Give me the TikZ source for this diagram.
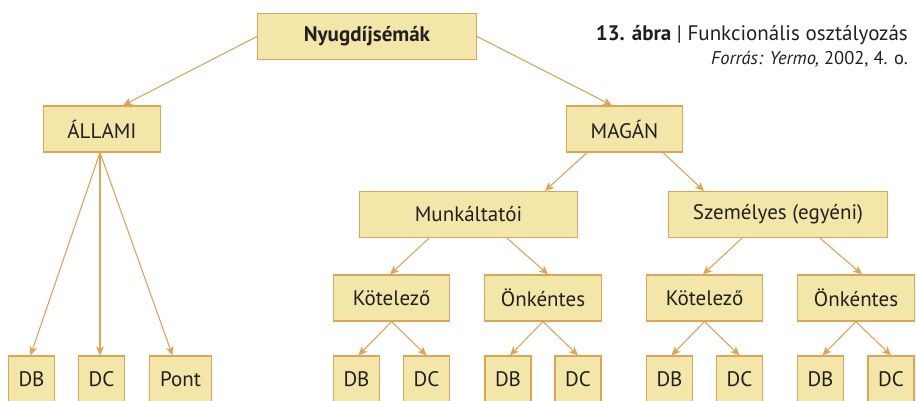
\documentclass[tikz,border=0pt]{standalone}
\usepackage{fontspec}
\setmainfont{PT Sans}
\usepackage{xcolor}
\usepackage{tikz}
\usetikzlibrary{arrows.meta,positioning}
\definecolor{pnfill}{HTML}{F3E6A9}
\definecolor{pnedge}{HTML}{E0A458}
\definecolor{pntext}{HTML}{231F20}

\begin{document}
\begin{tikzpicture}[
  x=1pt, y=-1pt,
  font=\fontsize{21}{24}\selectfont, text=pntext,
  box/.style={draw=pnedge, line width=1.2pt, fill=pnfill, inner sep=0pt, minimum height=46pt},
  leaf/.style={box, minimum width=46pt},
  arr/.style={-{Stealth[length=9pt,width=8pt,inset=2.5pt]}, line width=1.1pt, pnedge}
]
\useasboundingbox (0,0) rectangle (916,401);
% levels
\node[box, minimum width=219pt] (root) at (367,36.5) {\textbf{Nyugdíjsémák}};
\node[box, minimum width=117pt] (allami) at (102,129) {ÁLLAMI};
\node[box, minimum width=116pt] (magan) at (624.5,129) {MAGÁN};
\node[box, minimum width=218pt] (munk) at (468.5,214.5) {Munkáltatói};
\node[box, minimum width=219pt] (szem) at (778,214.5) {Személyes (egyéni)};
\node[box, minimum width=116pt] (kotA) at (391.5,298) {Kötelező};
\node[box, minimum width=117pt] (onkA) at (543,298) {Önkéntes};
\node[box, minimum width=116pt] (kotB) at (704.5,298) {Kötelező};
\node[box, minimum width=117pt] (onkB) at (856,298) {Önkéntes};
% leaves
\node[leaf] (aDB) at (31.5,379) {DB};
\node[leaf] (aDC) at (101.5,379) {DC};
\node[leaf, minimum width=62pt] (aPont) at (180.5,379) {Pont};
\node[leaf] (kaDB) at (356.5,379) {DB};
\node[leaf] (kaDC) at (426.5,379) {DC};
\node[leaf] (oaDB) at (508,379) {DB};
\node[leaf] (oaDC) at (578,379) {DC};
\node[leaf] (kbDB) at (669.5,379) {DB};
\node[leaf] (kbDC) at (739.5,379) {DC};
\node[leaf] (obDB) at (820.5,379) {DB};
\node[leaf] (obDC) at (891,379) {DC};
% caption
\node[anchor=east, inner sep=0pt] (cap) at (908,35) {\textbf{13. ábra} | Funkcionális osztályozás};
\node[anchor=east, inner sep=0pt, font=\fontsize{18.5}{21}\selectfont] (src) at (908,59) {\textit{Forrás: Yermo,} 2002, 4. o.};
% arrows
\draw[arr] (root.west) -- ([xshift=21pt]allami.north);
\draw[arr] (root.east) -- ([xshift=-12.5pt]magan.north);
\draw[arr] ([xshift=-2pt]allami.south) -- ([xshift=-1pt]aDB.north);
\draw[arr] ([xshift=-2pt]allami.south) -- ([xshift=-1.5pt]aDC.north);
\draw[arr] ([xshift=-2pt]allami.south) -- ([xshift=-8pt]aPont.north);
\draw[arr] ([xshift=-37.5pt]magan.south) -- ([xshift=76.5pt]munk.north);
\draw[arr] ([xshift=38.5pt]magan.south) -- ([xshift=-74pt]szem.north);
\draw[arr] ([xshift=-39.5pt]munk.south) -- ([xshift=-1.5pt]kotA.north);
\draw[arr] ([xshift=38.5pt]munk.south) -- ([xshift=5pt]onkA.north);
\draw[arr] ([xshift=-36pt]szem.south) -- ([xshift=-1.5pt]kotB.north);
\draw[arr] ([xshift=42pt]szem.south) -- ([xshift=6pt]onkB.north);
\foreach \p/\l/\r in {kotA/kaDB/kaDC, onkA/oaDB/oaDC, kotB/kbDB/kbDC, onkB/obDB/obDC}
{
  \draw[arr] (\p.south) -- ([xshift=2pt]\l.north);
  \draw[arr] (\p.south) -- (\r.north);
}
\end{tikzpicture}
\end{document}
